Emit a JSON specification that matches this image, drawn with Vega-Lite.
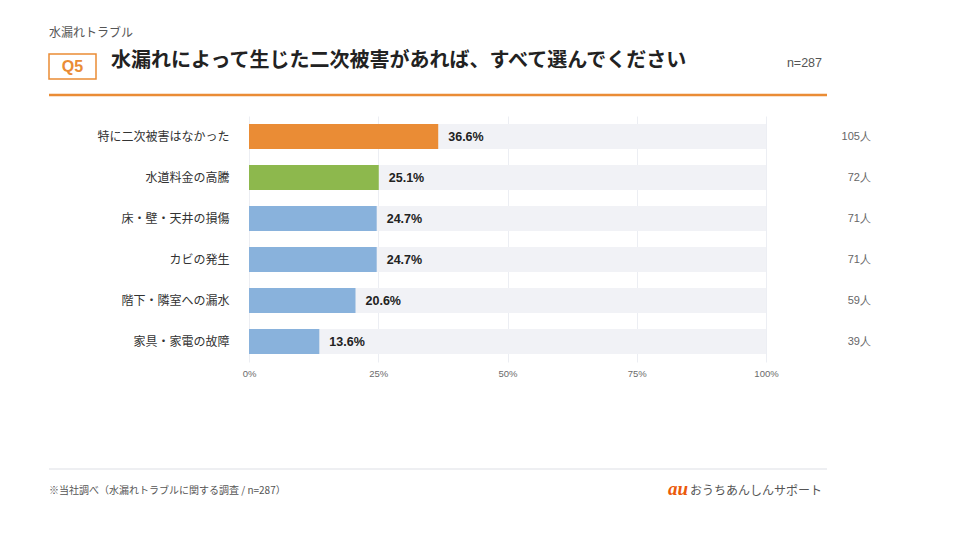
{
  "$schema": "https://vega.github.io/schema/vega-lite/v6.json",
  "autosize": {"type": "none"},
  "padding": {"left": 249, "top": 116, "right": 194, "bottom": 178},
  "width": 517,
  "height": 246,
  "background": "#ffffff",
  "view": {"stroke": null},
  "config": {
    "font": "Noto Sans CJK JP",
    "axis": {"labelFont": "Noto Sans CJK JP"}
  },
  "data": {
    "values": [
      {"item": "特に二次被害はなかった", "pct": 36.6, "count": 105},
      {"item": "水道料金の高騰", "pct": 25.1, "count": 72},
      {"item": "床・壁・天井の損傷", "pct": 24.7, "count": 71},
      {"item": "カビの発生", "pct": 24.7, "count": 71},
      {"item": "階下・隣室への漏水", "pct": 20.6, "count": 59},
      {"item": "家具・家電の故障", "pct": 13.6, "count": 39}
    ]
  },
  "encoding": {
    "y": {
      "field": "item",
      "type": "nominal",
      "sort": null,
      "scale": {"paddingInner": 0.39, "paddingOuter": 0.195},
      "axis": {
        "title": null,
        "domain": false,
        "ticks": false,
        "labelPadding": 20,
        "labelFontSize": 12,
        "labelColor": "#333333"
      }
    }
  },
  "layer": [
    {
      "mark": {"type": "bar", "color": "#f1f2f6"},
      "encoding": {
        "x": {
          "datum": 100,
          "type": "quantitative",
          "scale": {"domain": [0, 100], "nice": false},
          "axis": {
            "title": null,
            "values": [0, 25, 50, 75, 100],
            "labelExpr": "datum.value + '%'",
            "labelFlush": false,
            "domain": false,
            "ticks": false,
            "grid": true,
            "gridColor": "#eceef3",
            "gridWidth": 1,
            "labelFont": "Liberation Sans",
            "labelFontSize": 9.5,
            "labelColor": "#6b6b6b",
            "labelPadding": 6
          }
        },
        "x2": {"datum": 0}
      }
    },
    {
      "mark": {"type": "bar"},
      "encoding": {
        "x": {"field": "pct", "type": "quantitative"},
        "x2": {"datum": 0},
        "color": {
          "field": "item",
          "type": "nominal",
          "legend": null,
          "scale": {
            "domain": ["特に二次被害はなかった", "水道料金の高騰", "床・壁・天井の損傷", "カビの発生", "階下・隣室への漏水", "家具・家電の故障"],
            "range": ["#ea8c35", "#8db84d", "#89b2dc", "#89b2dc", "#89b2dc", "#89b2dc"]
          }
        }
      }
    },
    {
      "mark": {"type": "text", "align": "left", "baseline": "middle", "dx": 10, "font": "Liberation Sans", "fontWeight": "bold", "fontSize": 12.5, "color": "#222222"},
      "transform": [{"calculate": "format(datum.pct, '.1f') + '%'", "as": "label"}],
      "encoding": {
        "x": {"field": "pct", "type": "quantitative"},
        "text": {"field": "label", "type": "nominal"}
      }
    },
    {
      "mark": {"type": "text", "align": "right", "baseline": "middle", "font": "Liberation Sans", "fontSize": 11, "color": "#666666"},
      "transform": [{"calculate": "datum.count + '人'", "as": "countLabel"}],
      "encoding": {
        "x": {"datum": 120.3, "type": "quantitative"},
        "text": {"field": "countLabel", "type": "nominal"}
      }
    },
    {
      "data": {"values": [{"t": "水漏れトラブル"}]},
      "mark": {"type": "text", "align": "left", "baseline": "middle", "fontSize": 12, "color": "#555555"},
      "encoding": {"x": {"value": -200}, "y": {"value": -83}, "text": {"field": "t"}}
    },
    {
      "data": {"values": [{"t": "Q5"}]},
      "mark": {"type": "rect", "fill": "#ffffff", "stroke": "#ea8c35", "strokeWidth": 1.5},
      "encoding": {"x": {"value": -200}, "x2": {"value": -153}, "y": {"value": -62}, "y2": {"value": -37}}
    },
    {
      "data": {"values": [{"t": "Q5"}]},
      "mark": {"type": "text", "align": "center", "baseline": "middle", "font": "Liberation Sans", "fontWeight": "bold", "fontSize": 16, "color": "#ea8c35"},
      "encoding": {"x": {"value": -176.5}, "y": {"value": -49}, "text": {"field": "t"}}
    },
    {
      "data": {"values": [{"t": "水漏れによって生じた二次被害があれば、すべて選んでください"}]},
      "mark": {"type": "text", "align": "left", "baseline": "middle", "fontWeight": "bold", "fontSize": 20, "color": "#222222"},
      "encoding": {"x": {"value": -138}, "y": {"value": -55}, "text": {"field": "t"}}
    },
    {
      "data": {"values": [{"t": "n=287"}]},
      "mark": {"type": "text", "align": "right", "baseline": "middle", "font": "Liberation Sans", "fontSize": 12.5, "color": "#555555"},
      "encoding": {"x": {"value": 573}, "y": {"value": -53}, "text": {"field": "t"}}
    },
    {
      "data": {"values": [{"t": "header"}]},
      "mark": {"type": "rule", "color": "#ea8c35", "strokeWidth": 2.5},
      "encoding": {"x": {"value": -200}, "x2": {"value": 578}, "y": {"value": -21}}
    },
    {
      "data": {"values": [{"t": "footer"}]},
      "mark": {"type": "rule", "color": "#e8eaee", "strokeWidth": 1.5},
      "encoding": {"x": {"value": -200}, "x2": {"value": 578}, "y": {"value": 353}}
    },
    {
      "data": {"values": [{"t": "※当社調べ（水漏れトラブルに関する調査 / n=287）"}]},
      "mark": {"type": "text", "align": "left", "baseline": "middle", "fontSize": 10, "color": "#555555"},
      "encoding": {"x": {"value": -200}, "y": {"value": 375}, "text": {"field": "t"}}
    },
    {
      "data": {"values": [{"t": "au"}]},
      "mark": {"type": "text", "align": "right", "baseline": "middle", "font": "Liberation Serif", "fontStyle": "italic", "fontWeight": "bold", "fontSize": 19, "color": "#eb5a0a"},
      "encoding": {"x": {"value": 439}, "y": {"value": 373}, "text": {"field": "t"}}
    },
    {
      "data": {"values": [{"t": "おうちあんしんサポート"}]},
      "mark": {"type": "text", "align": "left", "baseline": "middle", "fontSize": 12, "color": "#555555"},
      "encoding": {"x": {"value": 441}, "y": {"value": 375}, "text": {"field": "t"}}
    }
  ]
}
